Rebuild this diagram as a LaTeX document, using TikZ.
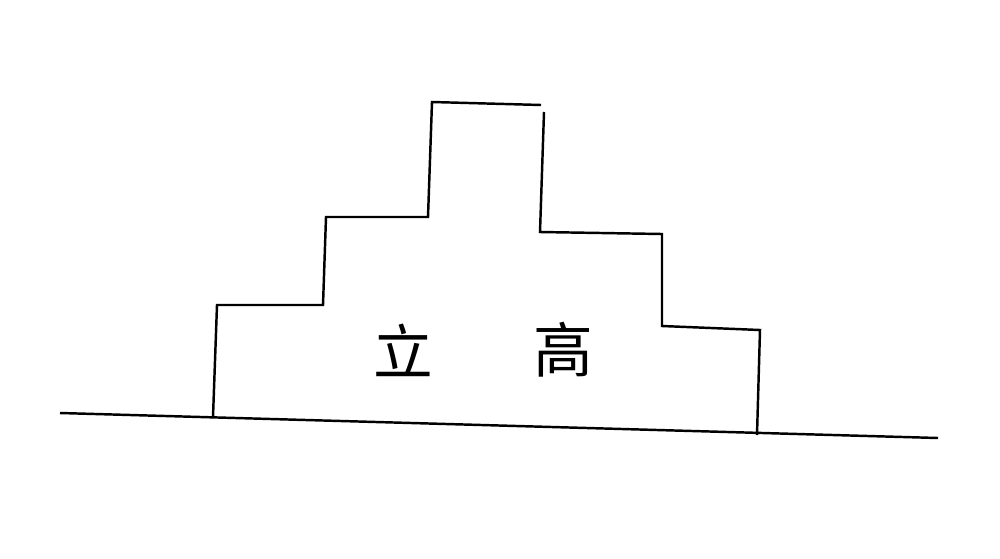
\documentclass[tikz,border=0pt]{standalone}
\usepackage{fontspec}
\newfontfamily\cjk{Noto Sans CJK SC}
\begin{document}
\begin{tikzpicture}[x=0.02cm,y=-0.02cm,
  outline/.style={line width=1.4pt,line join=miter},
  label/.style={font=\cjk\fontsize{34}{40}\selectfont,inner sep=0pt}]
\useasboundingbox (0,0) rectangle (1000,558);
\fill[white] (0,0) rectangle (1000,558);
% ground line
\coordinate (g1) at (60,413);
\coordinate (g2) at (938,438);
\draw[outline] (g1) -- (g2);
% stepped outline
\coordinate (a) at (213,417);
\coordinate (b) at (217,305);
\coordinate (c) at (323,305);
\coordinate (d) at (326,217);
\coordinate (e) at (428,217);
\coordinate (f) at (432,102);
\coordinate (h) at (541,105);
\coordinate (i) at (544,112);
\coordinate (j) at (540,232);
\coordinate (k) at (662,234);
\coordinate (l) at (662,326);
\coordinate (m) at (760,330);
\coordinate (n) at (757,435);
\draw[outline] (a) -- (b) -- (c) -- (d) -- (e) -- (f) -- (h);
\draw[outline] (i) -- (j) -- (k) -- (l) -- (m) -- (n);
% labels
\node[label] (t1) at (403,350) {立};
\node[label] (t2) at (563,350) {高};
\end{tikzpicture}
\end{document}
